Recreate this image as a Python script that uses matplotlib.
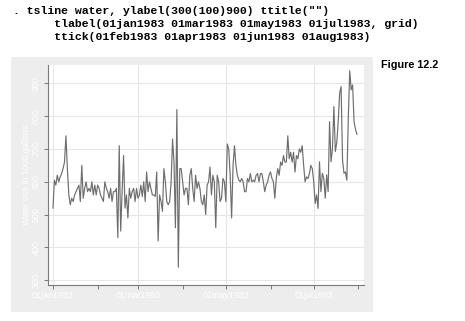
import matplotlib
matplotlib.use("Agg")
import matplotlib.pyplot as plt
import matplotlib.dates as mdates
from matplotlib.patches import Rectangle
import pandas as pd
import numpy as np

# ---- data ----
start_date = "1983-01-01"
water = [
    520, 605, 590, 620, 600, 615, 625, 640, 660, 740,
    640, 560, 530, 550, 540, 560, 570, 580, 590, 540,
    650, 550, 580, 600, 570, 580, 570, 600, 560, 590,
    560, 590, 580, 560, 550, 540, 600, 580, 570, 550,
    580, 540, 570, 570, 580, 430, 710, 450, 570, 680,
    520, 560, 490, 580, 550, 570, 580, 540, 580, 550,
    560, 590, 555, 600, 540, 630, 570, 600, 580, 560,
    560, 555, 630, 420, 560, 540, 510, 640, 600, 540,
    530, 540, 600, 730, 660, 460, 820, 340, 640, 640,
    600, 560, 580, 580, 530, 620, 640, 580, 540, 620,
    580, 600, 580, 540, 530, 560, 500, 590, 600, 645,
    560, 620, 600, 460, 620, 600, 540, 550, 610, 600,
    540, 715, 700, 620, 490, 650, 710, 650, 620, 605,
    600, 610, 600, 570, 570, 610, 600, 625, 600, 605,
    600, 620, 625, 600, 625, 625, 600, 570, 590, 600,
    620, 630, 610, 600, 550, 610, 640, 620, 660, 650,
    680, 660, 660, 740, 670, 690, 660, 690, 630, 680,
    670, 700, 690, 710, 650, 600, 615, 610, 625, 650,
    640, 600, 534, 560, 519, 661, 570, 626, 610, 550,
    621, 570, 783, 661, 700, 829, 692, 720, 783, 870,
    890, 666, 626, 630, 605, 793, 938, 880, 895, 783,
    760, 745,
]
ylabels = [300, 400, 500, 600, 700, 800, 900]
tlabels = ["1983-01-01", "1983-03-01", "1983-05-01", "1983-07-01"]
tticks = ["1983-02-01", "1983-04-01", "1983-06-01", "1983-08-01"]
ytitle = "Water use in 1000 gallons"

dates = pd.date_range(start_date, periods=len(water), freq="D")

W, H = 465, 321
fig = plt.figure(figsize=(W / 100, H / 100), dpi=100)
fig.patch.set_facecolor("white")

# gray graph region
fig.patches.append(Rectangle((11 / W, 1 - 312 / H), (373 - 11) / W, (312 - 57) / H,
                             transform=fig.transFigure, facecolor="#ededed",
                             edgecolor="none", zorder=-5))

ax = fig.add_axes([47.5 / W, 1 - 285 / H, (364 - 47.5) / W, (285 - 65) / H])
ax.set_zorder(2)
ax.set_facecolor("white")
ax.plot(dates, water, color="#6e6e6e", lw=0.85, zorder=3)

d0 = mdates.date2num(pd.Timestamp(start_date))
ax.set_xlim(d0 - 3.8, d0 + 215.9)
ax.set_ylim(285.7, 955.7)

ax.set_yticks(ylabels)
ax.set_yticklabels([str(v) for v in ylabels], rotation=90, va="center",
                   color="white", fontsize=6.4, family="Liberation Sans")
ax.set_xticks([mdates.date2num(pd.Timestamp(t)) for t in tlabels])
ax.set_xticklabels([pd.Timestamp(t).strftime("%d%b%Y").lower() for t in tlabels],
                   color="white", fontsize=6.4, family="Liberation Sans")
ax.set_xticks([mdates.date2num(pd.Timestamp(t)) for t in tticks], minor=True)

ax.tick_params(axis="y", length=3, width=0.7, color="#7a7a7a", pad=2)
ax.tick_params(axis="x", which="both", length=2.6, width=0.7, color="#7a7a7a", pad=2)
ax.grid(True, which="major", color="#e6e6e6", lw=0.8, zorder=0)
ax.set_axisbelow(True)

for s in ["top", "right"]:
    ax.spines[s].set_visible(False)
for s in ["left", "bottom"]:
    ax.spines[s].set_color("#7a7a7a")
    ax.spines[s].set_linewidth(0.8)

fig.text(26.7 / W, 1 - 175 / H, ytitle, rotation=90, ha="center", va="center",
         color="white", fontsize=6.2, family="Liberation Sans", zorder=3)

# command text
mono = dict(family="Liberation Mono", weight="bold", fontsize=8.25, color="black",
            ha="left", va="baseline")
fig.text(12.7 / W, 1 - 13.5 / H, '. tsline water, ylabel(300(100)900) ttitle("")', **mono)
fig.text(12.7 / W, 1 - 27 / H, '      tlabel(01jan1983 01mar1983 01may1983 01jul1983, grid)', **mono)
fig.text(12.7 / W, 1 - 40.5 / H, '      ttick(01feb1983 01apr1983 01jun1983 01aug1983)', **mono)

fig.text(380.7 / W, 1 - 68.3 / H, "Figure 12.2", family="Liberation Sans",
         weight="bold", fontsize=7.8, ha="left", va="baseline")

fig.savefig("out.png", dpi=100)
